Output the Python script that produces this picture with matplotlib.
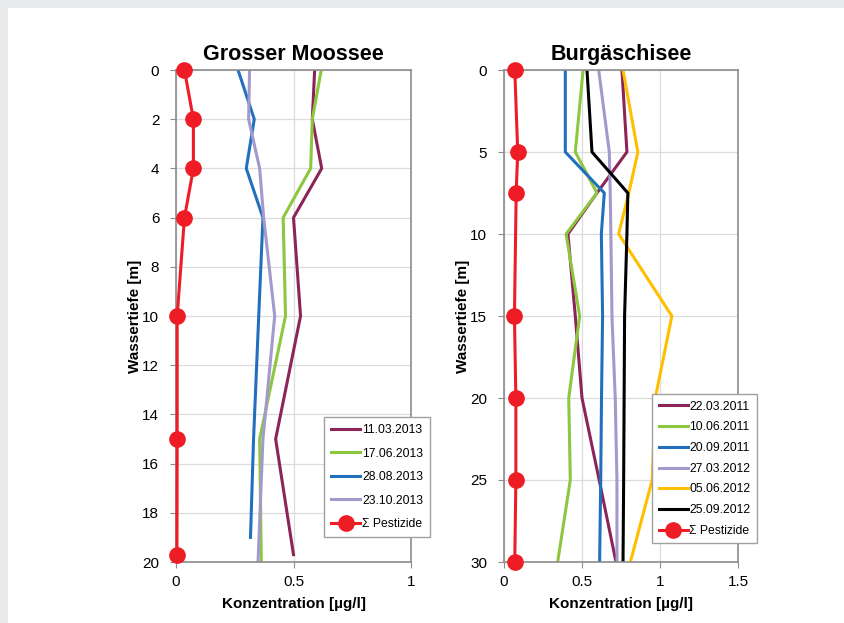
import numpy as np
import matplotlib.pyplot as plt
from matplotlib.patches import Rectangle

plt.rcParams['font.family'] = ['Liberation Sans', 'DejaVu Sans']

# Grosser Moossee
gm_depth = [0, 2, 4, 6, 10, 15, 19.7]
gm_1103 = [0.59, 0.58, 0.62, 0.50, 0.53, 0.424, 0.50]
gm_1706_depth = [0, 2, 4, 6, 10, 15, 20]
gm_1706 = [0.618, 0.58, 0.573, 0.456, 0.466, 0.356, 0.363]
gm_2808_depth = [0, 2, 4, 6, 10, 15, 19]
gm_2808 = [0.264, 0.333, 0.299, 0.37, 0.352, 0.33, 0.317]
gm_2310_depth = [0, 2, 4, 6, 10, 15, 20]
gm_2310 = [0.313, 0.309, 0.356, 0.373, 0.42, 0.37, 0.349]
gm_pest = [0.036, 0.074, 0.074, 0.036, 0.005, 0.005, 0.004]
gm_labels = ['11.03.2013', '17.06.2013', '28.08.2013', '23.10.2013']

# Burgäschisee
bs_depth = [0, 5, 7.5, 10, 15, 20, 25, 30]
bs_2203 = [0.756, 0.788, 0.596, 0.41, 0.457, 0.50, 0.61, 0.718]
bs_1006 = [0.507, 0.457, 0.596, 0.398, 0.485, 0.415, 0.425, 0.344]
bs_2009 = [0.393, 0.393, 0.643, 0.624, 0.632, 0.625, 0.62, 0.613]
bs_2703 = [0.607, 0.675, 0.681, 0.685, 0.692, 0.713, 0.724, 0.724]
bs_0506 = [0.763, 0.858, 0.80, 0.735, 1.076, 0.97, 0.95, 0.81]
bs_2509 = [0.532, 0.564, 0.794, 0.788, 0.773, 0.77, 0.767, 0.763]
bs_pest_depth = [0, 5, 7.5, 15, 20, 25, 30]
bs_pest = [0.069, 0.088, 0.078, 0.067, 0.076, 0.076, 0.069]
bs_labels = ['22.03.2011', '10.06.2011', '20.09.2011', '27.03.2012', '05.06.2012', '25.09.2012']

c_purple = '#8c2458'
c_green = '#8dc63f'
c_blue = '#2270bd'
c_lav = '#a399cc'
c_orange = '#ffbf00'
c_black = '#000000'
c_red = '#ee1c25'

W, H = 844, 623
fig = plt.figure(figsize=(W / 100, H / 100), dpi=100)
fig.patch.set_facecolor('white')
fig.add_artist(Rectangle((0, 1 - 8 / H), 1, 8 / H, transform=fig.transFigure,
                         facecolor='#e8e9eb', edgecolor='none'))
fig.add_artist(Rectangle((0, 0), 8 / W, 1, transform=fig.transFigure,
                         facecolor='#e8e9eb', edgecolor='none'))


def px_axes(x0, y0, x1, y1):
    return fig.add_axes([x0 / W, 1 - y1 / H, (x1 - x0) / W, (y1 - y0) / H])


def style(ax, title, ymax, ystep, xmax, ylabelpad):
    ax.set_ylim(ymax, 0)
    ax.set_xlim(0, xmax)
    ax.set_yticks(np.arange(0, ymax + 0.1, ystep))
    ax.set_xticks(np.arange(0, xmax + 0.01, 0.5))
    ax.set_xticklabels([('%g' % v) for v in np.arange(0, xmax + 0.01, 0.5)])
    ax.grid(color='#dcdcdc', linewidth=0.9)
    ax.set_axisbelow(True)
    for s in ax.spines.values():
        s.set_color('#8c8c8c')
        s.set_linewidth(1.2)
    ax.tick_params(labelsize=11, colors='#8c8c8c', labelcolor='black', length=4)
    ax.tick_params(axis='y', pad=8)
    ax.tick_params(axis='x', pad=5)
    ax.set_title(title, fontsize=15.5, fontweight='bold', pad=7)
    ax.set_xlabel('Konzentration [µg/l]', fontsize=11, fontweight='bold', labelpad=6)
    ax.set_ylabel('Wassertiefe [m]', fontsize=11, fontweight='bold', labelpad=ylabelpad)


lw = 2.2
leg_kw = dict(bbox_transform=fig.transFigure, fontsize=8.7, frameon=True,
              fancybox=False, edgecolor='#a0a0a0', framealpha=1,
              handlelength=2.4, handletextpad=0.15, borderaxespad=0)

ax1 = px_axes(176, 70, 411, 562)
ax1.plot(gm_1103, gm_depth, color=c_purple, lw=lw, label=gm_labels[0])
ax1.plot(gm_1706, gm_1706_depth, color=c_green, lw=lw, label=gm_labels[1])
ax1.plot(gm_2808, gm_2808_depth, color=c_blue, lw=lw, label=gm_labels[2])
ax1.plot(gm_2310, gm_2310_depth, color=c_lav, lw=lw, label=gm_labels[3])
ax1.plot(gm_pest, gm_depth, color=c_red, lw=lw, marker='o', markersize=11,
         label='Σ Pestizide', clip_on=False, zorder=5)
style(ax1, 'Grosser Moossee', 20, 2, 1, 0)
ax1.legend(loc='upper left', bbox_to_anchor=(324 / W, 1 - 417 / H),
           labelspacing=0.95, borderpad=0.6, **leg_kw)

ax2 = px_axes(504, 70, 738, 562)
ax2.plot(bs_2203, bs_depth, color=c_purple, lw=lw, label=bs_labels[0])
ax2.plot(bs_1006, bs_depth, color=c_green, lw=lw, label=bs_labels[1])
ax2.plot(bs_2009, bs_depth, color=c_blue, lw=lw, label=bs_labels[2])
ax2.plot(bs_2703, bs_depth, color=c_lav, lw=lw, label=bs_labels[3])
ax2.plot(bs_0506, bs_depth, color=c_orange, lw=lw, label=bs_labels[4])
ax2.plot(bs_2509, bs_depth, color=c_black, lw=lw, label=bs_labels[5])
ax2.plot(bs_pest, bs_pest_depth, color=c_red, lw=lw, marker='o', markersize=11,
         label='Σ Pestizide', clip_on=False, zorder=5)
style(ax2, 'Burgäschisee', 30, 5, 1.5, 0)
ax2.legend(loc='upper left', bbox_to_anchor=(652 / W, 1 - 394 / H),
           labelspacing=0.72, borderpad=0.55, **leg_kw)

fig.savefig('out.png', dpi=100)
